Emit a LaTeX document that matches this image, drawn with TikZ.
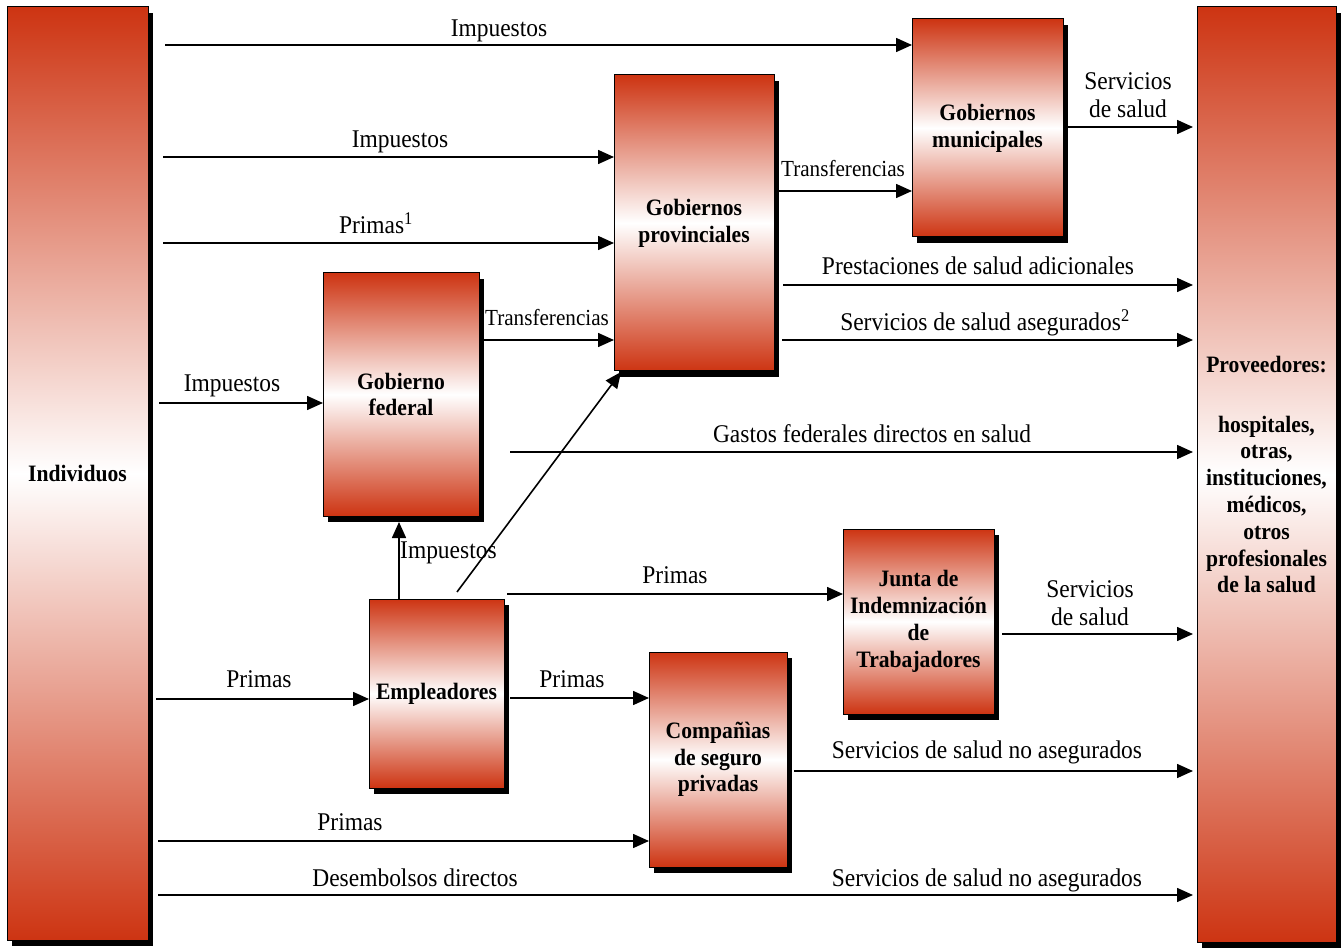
\documentclass[tikz,border=0pt]{standalone}
\usepackage{fontspec}
\setmainfont{Liberation Serif}[FakeStretch=0.92]
\usetikzlibrary{arrows.meta,shadows,calc}
\definecolor{boxred}{RGB}{205,52,18}
\begin{document}
\begin{tikzpicture}[x=1pt,y=-1pt,
  box/.style={draw=black, line width=1pt, inner sep=0pt, outer sep=0pt,
    top color=boxred, bottom color=boxred, middle color=white, align=center,
    font=\fontsize{23.5}{26.8}\selectfont\bfseries,
    drop shadow={shadow xshift=5pt, shadow yshift=-6pt, fill=black, opacity=1}},
  arr/.style={line width=1.6pt, -{Triangle[length=16pt,width=14pt]}},
  lbl/.style={inner sep=0pt, font=\fontsize{25.5}{28}\selectfont, align=center},
  lbls/.style={inner sep=0pt, font=\fontsize{23}{26}\selectfont}
]
\useasboundingbox (0,0) rectangle (1342,949);
\fill[white] (0,0) rectangle (1342,949);

% boxes
\node[box, minimum width=141pt, minimum height=933pt] (ind) at (77.5,473.5) {Individuos};
\node[box, minimum width=139pt, minimum height=935pt] (prov) at (1266.5,474.5)
  {Proveedores:\\[33pt]hospitales,\\otras,\\instituciones,\\médicos,\\otros\\profesionales\\de la salud};
\node[box, minimum width=151pt, minimum height=218pt] (mun) at (987.5,128) {Gobiernos\\municipales};
\node[box, minimum width=160pt, minimum height=296pt] (provinc) at (694,223) {Gobiernos\\provinciales};
\node[box, minimum width=156pt, minimum height=243pt] (fed) at (401,394.5) {Gobierno\\federal};
\node[box, minimum width=135pt, minimum height=189pt] (emp) at (436.5,693.5) {Empleadores};
\node[box, minimum width=151pt, minimum height=185pt] (junta) at (918.5,621.5) {Junta de\\Indemnización\\de\\Trabajadores};
\node[box, minimum width=138pt, minimum height=215pt] (comp) at (718,759.5) {Compañìas\\de seguro\\privadas};

% connectors
\draw[arr, shorten <=17pt] (ind.east |- 0,45) -- (mun.west |- 0,45);
\draw[arr, shorten <=4pt, shorten >=4pt] (mun.east |- 0,127) -- (prov.west |- 0,127);
\draw[arr, shorten <=15pt] (ind.east |- 0,157) -- (provinc.west |- 0,157);
\draw[arr, shorten <=15pt] (ind.east |- 0,243) -- (provinc.west |- 0,243);
\draw[arr, shorten <=5pt] (provinc.east |- 0,191) -- (mun.west |- 0,191);
\draw[arr, shorten <=9pt, shorten >=4pt] (provinc.east |- 0,285) -- (prov.west |- 0,285);
\draw[arr, shorten <=4pt] (fed.east |- 0,340) -- (provinc.west |- 0,340);
\draw[arr, shorten <=8pt, shorten >=4pt] (provinc.east |- 0,340) -- (prov.west |- 0,340);
\draw[arr, shorten <=11pt] (ind.east |- 0,403) -- (fed.west |- 0,403);
\draw[arr, shorten <=31pt, shorten >=4pt] (fed.east |- 0,452) -- (prov.west |- 0,452);
\draw[arr] (emp.north -| 399,0) -- ($(fed.south -| 399,0)+(0,6)$);
\draw[arr] ($(emp.north west)+(88,-7)$) -- ($(provinc.south west)+(7,1)$);
\draw[arr] ($(emp.north east)+(3,-5)$) -- (junta.west |- 0,594);
\draw[arr, shorten <=8pt, shorten >=4pt] (junta.east |- 0,634) -- (prov.west |- 0,634);
\draw[arr, shorten <=8pt] (ind.east |- 0,699) -- (emp.west |- 0,699);
\draw[arr, shorten <=6pt] (emp.east |- 0,698) -- (comp.west |- 0,698);
\draw[arr, shorten <=7pt, shorten >=4pt] (comp.east |- 0,771) -- (prov.west |- 0,771);
\draw[arr, shorten <=10pt] (ind.east |- 0,841) -- (comp.west |- 0,841);
\draw[arr, shorten <=10pt, shorten >=4pt] (ind.east |- 0,895) -- (prov.west |- 0,895);

% labels
\node[lbl, anchor=base] (l1) at (499,37) {Impuestos};
\node[lbl, anchor=north] (l2) at (1128,72.5) {Servicios\\de salud};
\node[lbl, anchor=base] (l3) at (400,148) {Impuestos};
\node[lbl, anchor=base] (l4) at (376,234) {Primas\textsuperscript{1}};
\node[lbls, anchor=base] (l5) at (843,177) {Transferencias};
\node[lbl, anchor=base] (l6) at (978,275) {Prestaciones de salud adicionales};
\node[lbls, anchor=base] (l7) at (547,326) {Transferencias};
\node[lbl, anchor=base] (l8) at (985,331) {Servicios de salud asegurados\textsuperscript{2}};
\node[lbl, anchor=base] (l9) at (232,392) {Impuestos};
\node[lbl, anchor=base] (l10) at (872,443) {Gastos federales directos en salud};
\node[lbl, anchor=base west] (l11) at (400,558) {Impuestos};
\node[lbl, anchor=base] (l12) at (675,583) {Primas};
\node[lbl, anchor=north] (l13) at (1090,580.5) {Servicios\\de salud};
\node[lbl, anchor=base] (l14) at (259,687) {Primas};
\node[lbl, anchor=base] (l15) at (572,687) {Primas};
\node[lbl, anchor=base] (l16) at (987,758) {Servicios de salud no asegurados};
\node[lbl, anchor=base] (l17) at (350,830) {Primas};
\node[lbl, anchor=base] (l18) at (415,886) {Desembolsos directos};
\node[lbl, anchor=base] (l19) at (987,886) {Servicios de salud no asegurados};
\end{tikzpicture}
\end{document}
